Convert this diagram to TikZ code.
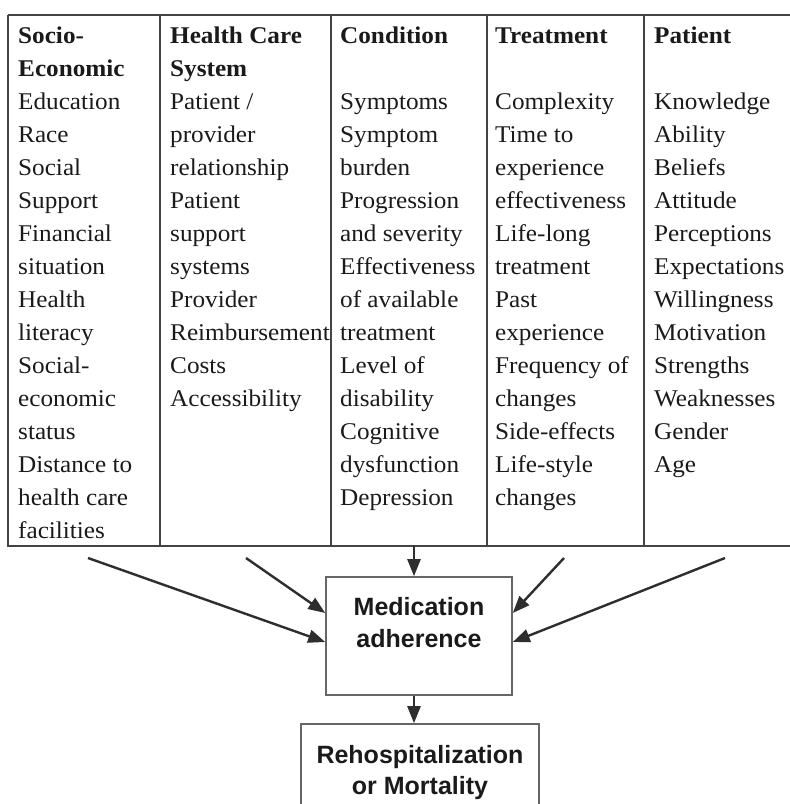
\documentclass[tikz,border=0pt]{standalone}
\usepackage{fontspec}
\setmainfont{Liberation Serif}[FakeStretch=1.05]
\newfontfamily\boxfont{Liberation Sans}
\usetikzlibrary{arrows.meta,calc}
\definecolor{ink}{HTML}{1A1A1A}
\definecolor{rulec}{HTML}{444444}
\definecolor{boxline}{HTML}{666666}
\definecolor{arrowc}{HTML}{2E2E2E}
\begin{document}
\begin{tikzpicture}[x=1pt,y=-1pt,
 cell/.style={anchor=base west, inner sep=0pt, text=ink, font=\fontsize{24}{33}\selectfont},
 boxtxt/.style={anchor=base, inner sep=0pt, text=ink, font=\boxfont\bfseries\fontsize{25}{33}\selectfont},
 frame/.style={draw=boxline, line width=1.6pt, inner sep=0pt},
 arr/.style={draw=arrowc, line width=2.4pt, -{Triangle[length=17pt,width=13pt]}},
 tablerule/.style={draw=rulec, line width=1.5pt}]
\useasboundingbox (0,0) rectangle (790,804);
% table
\draw[tablerule] (8,15) -- (792,15);
\draw[tablerule] (8,15) -- (8,546) -- (792,546);
\foreach \x in {160,331,487,644} \draw[tablerule] (\x,15) -- (\x,546);
% column 1
\foreach \t [count=\i from 0] in {\textbf{Socio-},\textbf{Economic},Education,Race,Social,Support,Financial,situation,Health,literacy,Social-,economic,status,Distance to,health care,facilities}
  \node[cell] (a\i) at (18,{43+33*\i}) {\t};
% column 2
\foreach \t [count=\i from 0] in {\textbf{Health Care},\textbf{System},Patient /,provider,relationship,Patient,support,systems,Provider,Reimbursement,Costs,Accessibility}
  \node[cell] (b\i) at (170,{43+33*\i}) {\t};
% column 3
\node[cell] (c0) at (340,43) {\textbf{Condition}};
\foreach \t [count=\i from 2] in {Symptoms,Symptom,burden,Progression,and severity,Effectiveness,of available,treatment,Level of,disability,Cognitive,dysfunction,Depression}
  \node[cell] (c\i) at (340,{43+33*\i}) {\t};
% column 4
\node[cell] (d0) at (495,43) {\textbf{Treatment}};
\foreach \t [count=\i from 2] in {Complexity,Time to,experience,effectiveness,Life-long,treatment,Past,experience,Frequency of,changes,Side-effects,Life-style,changes}
  \node[cell] (d\i) at (495,{43+33*\i}) {\t};
% column 5
\node[cell] (e0) at (654,43) {\textbf{Patient}};
\foreach \t [count=\i from 2] in {Knowledge,Ability,Beliefs,Attitude,Perceptions,Expectations,Willingness,Motivation,Strengths,Weaknesses,Gender,Age}
  \node[cell] (e\i) at (654,{43+33*\i}) {\t};
% boxes
\node[frame, minimum width=186pt, minimum height=118pt] (medbox) at (419,636) {};
\node[boxtxt] (med1) at (419,615) {Medication};
\node[boxtxt] (med2) at (419,647) {adherence};
\node[frame, minimum width=238pt, minimum height=90pt] (outbox) at (420,769) {};
\node[boxtxt] (out1) at (420,763) {Rehospitalization};
\node[boxtxt] (out2) at (420,794) {or Mortality};
% arrows
\coordinate (s0) at (414,546);
\coordinate (s1) at (88,558);
\coordinate (s2) at (246,558);
\coordinate (s3) at (564,558);
\coordinate (s4) at (725,558);
\draw[arr] (s0) -- (s0 |- medbox.north);
\draw[arr] (medbox.south -| s0) -- (outbox.north -| s0);
\draw[arr] (s1) -- ([yshift=-6pt]medbox.west);
\draw[arr] (s2) -- ([yshift=23pt]medbox.west);
\draw[arr] (s3) -- ([yshift=23pt]medbox.east);
\draw[arr] (s4) -- ([yshift=-6pt]medbox.east);
\end{tikzpicture}
\end{document}
